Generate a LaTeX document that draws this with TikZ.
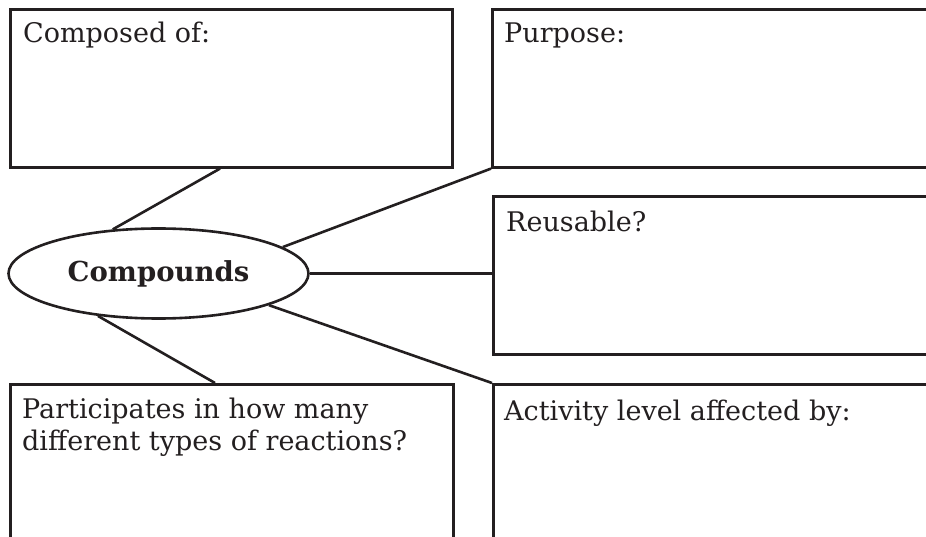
\documentclass[tikz,border=0pt]{standalone}
\usepackage{fontspec}
\setmainfont{DejaVu Serif}
\usetikzlibrary{shapes.geometric,calc}
\definecolor{ink}{HTML}{231F20}
\tikzset{
  boxnode/.style={draw=ink, line width=2.6pt, rectangle, inner sep=0pt, anchor=north west},
  lbl/.style={text=ink, inner sep=0pt, anchor=base west, font=\fontsize{27}{32}\selectfont, align=left},
  hub/.style={draw=ink, line width=2.6pt, ellipse, inner sep=0pt, minimum width=300pt, minimum height=90pt, font=\fontsize{27.5}{30}\selectfont\bfseries, text=ink},
  link/.style={draw=ink, line width=2.6pt}
}
\begin{document}
\begin{tikzpicture}[x=1pt,y=1pt]
\useasboundingbox (0,0) rectangle (926,-537);
\clip (0,0) rectangle (926,-537);
\fill[white] (0,0) rectangle (926,-537);
\node[boxnode, minimum width=442pt, minimum height=158pt] (comp) at (9,-8) {};
\node[boxnode, minimum width=460pt, minimum height=158pt] (purp) at (491,-8) {};
\node[boxnode, minimum width=460pt, minimum height=158pt] (reus) at (492,-195) {};
\node[boxnode, minimum width=443pt, minimum height=180pt] (part) at (9,-383) {};
\node[boxnode, minimum width=460pt, minimum height=180pt] (act) at (492,-383) {};
\node[lbl] (tcomp) at ($(comp.north west)+(14,-35)$) {Composed of:};
\node[lbl] (tpurp) at ($(purp.north west)+(13,-35)$) {Purpose:};
\node[lbl] (treus) at ($(reus.north west)+(14,-37)$) {Reusable?};
\node[lbl] (tpart) at ($(part.north west)+(13,-67)$) {Participates in how many\\different types of reactions?};
\node[lbl] (tact) at ($(act.north west)+(12,-37)$) {Activity level affected by:};
\node[hub] (hub) at (158.5,-273.5) {Compounds};
\draw[link] ($(comp.south west)+(211,0)$) -- (hub.136.6);
\draw[link] (purp.south west) -- (hub.12.3);
\draw[link] (hub.east) -- (hub.east -| reus.west);
\draw[link] (hub.-16.9) -- (act.north west);
\draw[link] (hub.215.7) -- ($(part.north west)+(206,0)$);
\end{tikzpicture}
\end{document}
